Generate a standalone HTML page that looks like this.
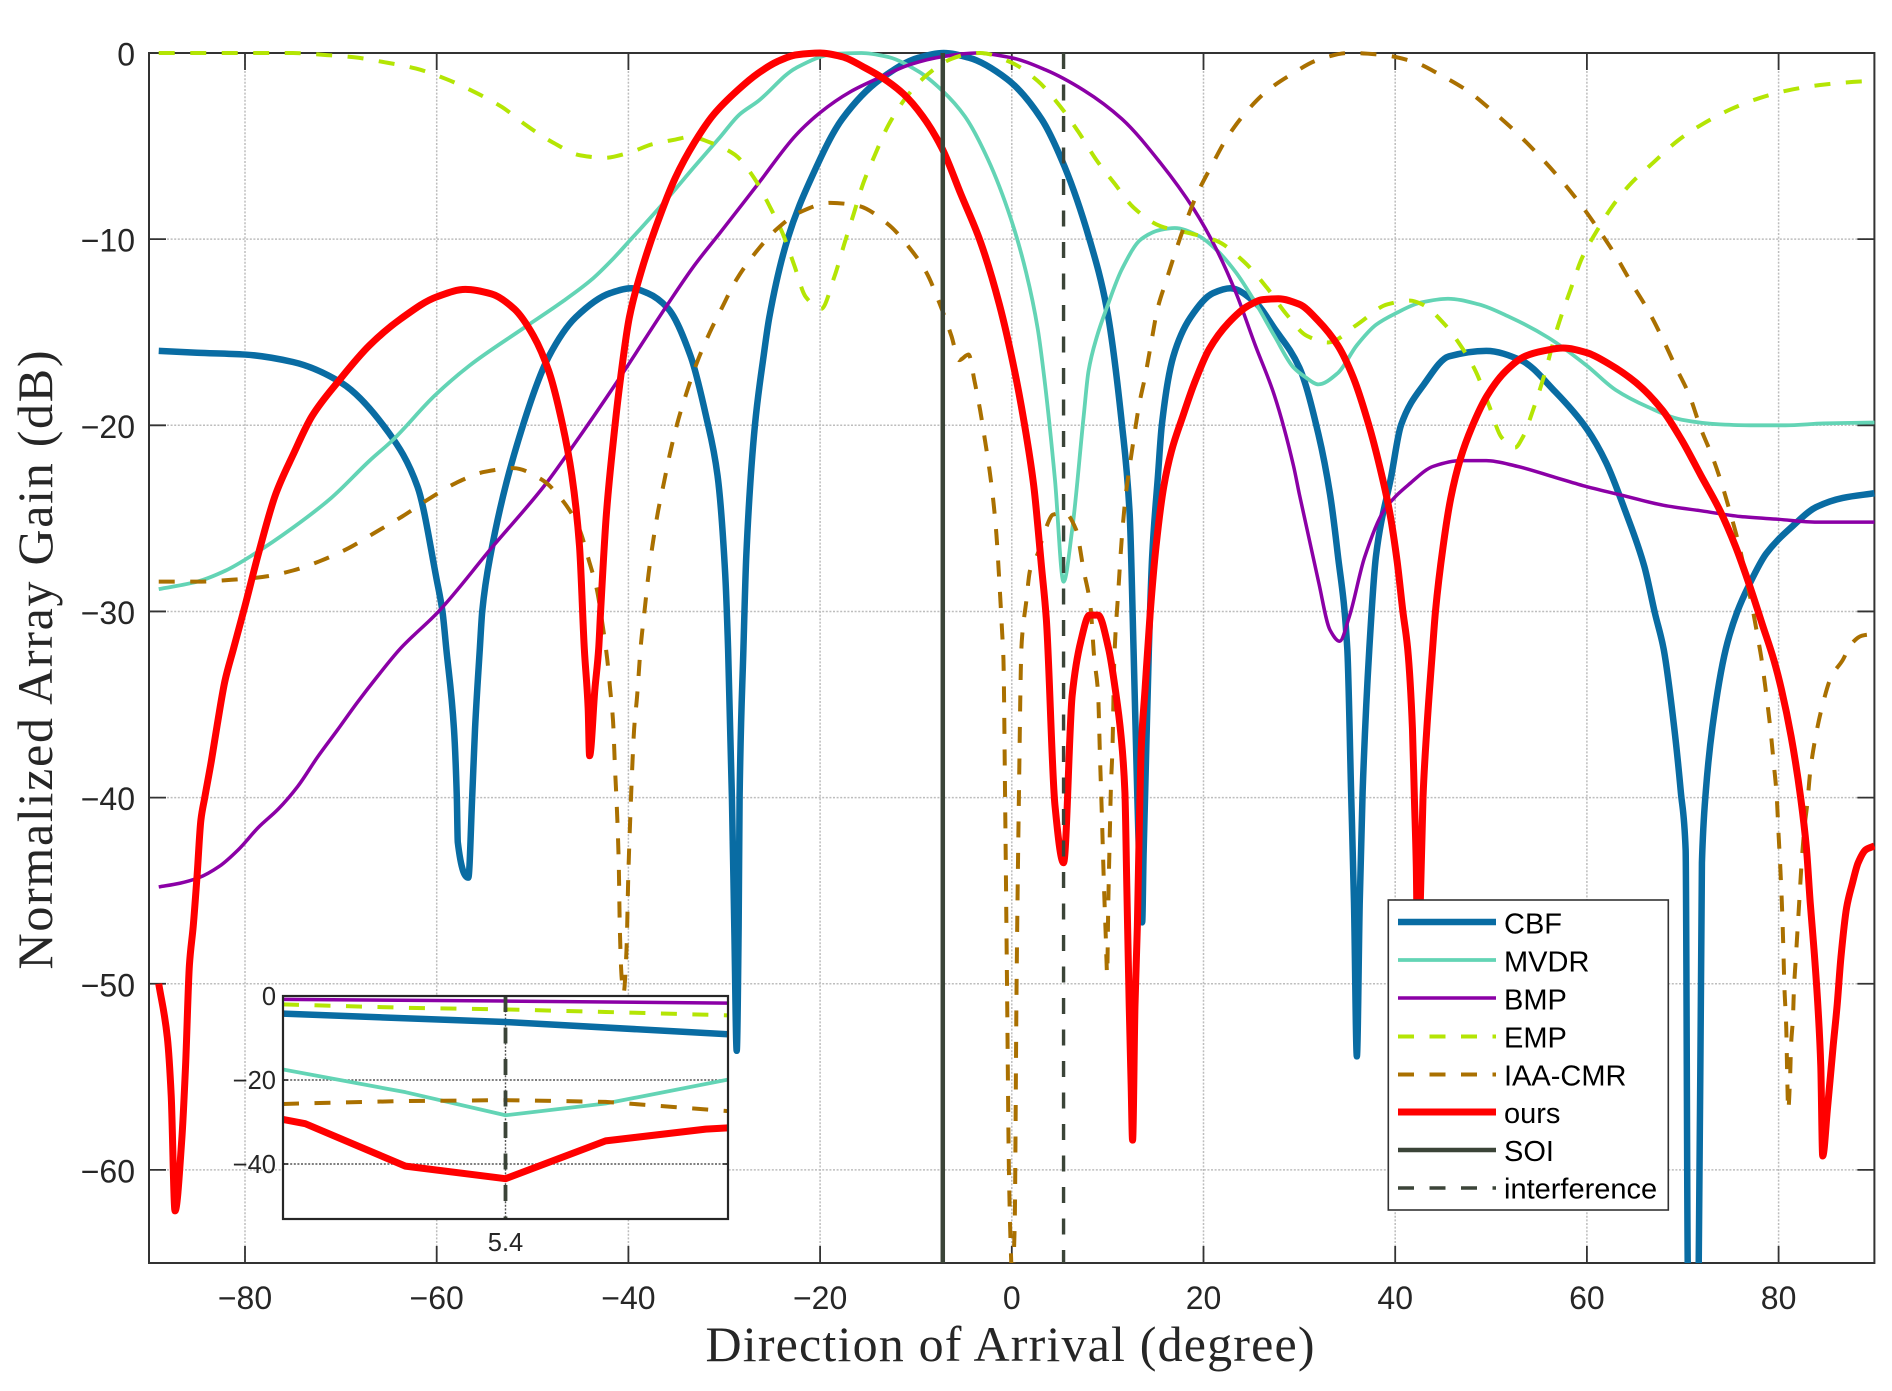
<!DOCTYPE html>
<html lang="en">
<head>
<meta charset="utf-8">
<title>Normalized Array Gain</title>
<style>
html,body{margin:0;padding:0;background:#fff;}
svg{display:block;}
text{font-family:"Liberation Sans",sans-serif;fill:#262626;}
.serif{font-family:"Liberation Serif",serif;}
</style>
</head>
<body>
<svg id="chart" xmlns="http://www.w3.org/2000/svg" width="1892" height="1391" viewBox="0 0 1892 1391">
  <defs>
    <clipPath id="main-clip"><rect x="149" y="48" width="1726" height="1215"></rect></clipPath>
    <clipPath id="inset-clip"><rect x="283" y="994" width="445" height="225"></rect></clipPath>
  </defs>
  <rect x="149" y="53" width="1725.4" height="1210" fill="#fff"></rect>
  <g id="main-grid"></g>
  <g id="main-ticks"></g>
  <rect x="149" y="53" width="1725.4" height="1210" fill="none" stroke="#333" stroke-width="2"></rect>
  <g id="main-series" clip-path="url(#main-clip)"></g>
  <g id="main-labels"></g>
  <text class="serif" x="1010" y="1361" text-anchor="middle" font-size="50" textLength="609" lengthAdjust="spacing">Direction of Arrival (degree)</text>
  <text class="serif" transform="translate(52,660) rotate(-90)" text-anchor="middle" font-size="50" textLength="619" lengthAdjust="spacing">Normalized Array Gain (dB)</text>

  <g id="inset">
    <rect x="283" y="996" width="445" height="223" fill="#fff"></rect>
    <g id="inset-grid"></g>
    <g id="inset-series" clip-path="url(#inset-clip)"></g>
    <rect x="283" y="996" width="445" height="223" fill="none" stroke="#262626" stroke-width="2.2"></rect>
    <g id="inset-labels"></g>
  </g>

  <g>
    <rect x="1388.3" y="900" width="280" height="310" fill="#fff" stroke="#333" stroke-width="1.6"></rect>
    <g>
      <line x1="1398" x2="1496" y1="922" y2="922" stroke="#096ca3" stroke-width="6.5"></line>
      <text x="1504" y="933.5" font-size="29" style="fill:#000">CBF</text>
    </g>
    <g>
      <line x1="1398" x2="1496" y1="960" y2="960" stroke="#63d4b5" stroke-width="3.8"></line>
      <text x="1504" y="971.5" font-size="29" style="fill:#000">MVDR</text>
    </g>
    <g>
      <line x1="1398" x2="1496" y1="998" y2="998" stroke="#8b00a6" stroke-width="3.5"></line>
      <text x="1504" y="1009.5" font-size="29" style="fill:#000">BMP</text>
    </g>
    <g>
      <line x1="1398" x2="1496" y1="1036.5" y2="1036.5" stroke="#b4e504" stroke-width="4" stroke-dasharray="16 15.5"></line>
      <text x="1504" y="1047.5" font-size="29" style="fill:#000">EMP</text>
    </g>
    <g>
      <line x1="1398" x2="1496" y1="1074.5" y2="1074.5" stroke="#aa7000" stroke-width="4" stroke-dasharray="16 15.5"></line>
      <text x="1504" y="1085.5" font-size="29" style="fill:#000">IAA-CMR</text>
    </g>
    <g>
      <line x1="1398" x2="1496" y1="1112" y2="1112" stroke="#ff0000" stroke-width="7"></line>
      <text x="1504" y="1123" font-size="29" style="fill:#000">ours</text>
    </g>
    <g>
      <line x1="1398" x2="1496" y1="1150" y2="1150" stroke="#3b4438" stroke-width="4.5"></line>
      <text x="1504" y="1161" font-size="29" style="fill:#000">SOI</text>
    </g>
    <g>
      <line x1="1398" x2="1496" y1="1188" y2="1188" stroke="#3b4438" stroke-width="3.4" stroke-dasharray="16 15.5"></line>
      <text x="1504" y="1198.5" font-size="29" style="fill:#000">interference</text>
    </g>
  </g>
</svg>

<script>
// ---------- tick labels ----------
const xTicks = [-80, -60, -40, -20, 0, 20, 40, 60, 80];
const yTicks = [0, -10, -20, -30, -40, -50, -60];
const insetXTicks = [5.4];
const insetYTicks = [0, -20, -40];

// ---------- directions of the signal of interest and the interference ----------
const soiDoa = [-7.2];
const interferenceDoa = [5.4];

// ---------- CBF ----------
const cbfDoa = [-89,-85,-80,-75,-70,-65,-62,-60,-59.4,-59,-58.2,-57.9,-57.8,-56.7,-56.3,-56,-55.5,-55.25,-54.4,-51,-48.3,-45.5,-41.9,-39.7,-38,-35.9,-33.5,-31.9,-30.7,-29.9,-29.6,-29.2,-28.95,-28.7,-28.5,-28.4,-28,-27.7,-26.8,-25.9,-25.3,-23.4,-20.9,-17.7,-13.7,-9.7,-7.1,-4.5,-0.5,3.1,5.5,8.1,9.9,11.5,12.3,12.7,13.1,13.4,13.6,13.75,13.9,14.3,14.65,15.25,15.65,16.85,18.65,21,22.8,25.4,27.4,30,32,33.2,34,35,35.4,35.7,36,36.3,36.6,37.3,38,39.6,40.6,43,45.6,49.5,53.1,56.7,60,62,64,66,67.1,68,69.1,69.8,70.3,70.55,71.65,72,72.4,73.1,74.5,75.7,76.9,78.7,81.5,83.9,86.7,90];
const cbfGain = [-16,-16.1,-16.2,-16.6,-17.7,-20.4,-23.3,-28.3,-30,-32,-36.3,-40,-42.4,-44.3,-40,-36.3,-32,-30,-27,-20,-16.3,-14.2,-12.9,-12.64,-12.9,-13.7,-16.3,-19.5,-22.7,-28,-32,-40,-47,-53.6,-47,-40,-32,-27,-20,-16.3,-14.2,-10,-6.7,-3.55,-1.4,-0.25,0,-0.25,-1.4,-3.55,-6.1,-10,-13.7,-20,-24.8,-32,-40,-45,-46.7,-43,-40,-32,-27,-22.7,-20,-16.3,-14.2,-12.9,-12.64,-13.4,-14.8,-16.9,-20.5,-23.7,-26.9,-32,-39.7,-45.6,-53.9,-45.6,-39.7,-32,-27,-22.7,-20,-17.8,-16.3,-16,-16.5,-18.2,-20.2,-22,-24.6,-27.6,-30.1,-32,-36.2,-39.7,-42.8,-66,-66,-43.5,-39.7,-36.2,-32,-30,-28.6,-26.9,-25.4,-24.4,-23.9,-23.65];

// ---------- MVDR ----------
const mvdrDoa = [-89,-85,-82,-79,-75,-71,-67,-64.6,-60.2,-56.6,-51,-47,-43.9,-41.5,-39.9,-35.9,-33.1,-30.4,-28.4,-26.5,-22.5,-18.5,-15.7,-13,-9.7,-7.3,-4.9,-2.5,-0.1,1.5,2.7,3.4,4.5,5.4,6.3,7.5,8,8.9,9.9,11.5,13.5,15.5,17,19.4,21.4,23.4,25.4,27.4,29.4,30.6,32,34,36,38,40,42.7,45.5,48.7,52,56,60,63,66.3,69.9,73.9,77.1,80.7,84.7,90];
const mvdrGain = [-28.8,-28.4,-27.8,-26.9,-25.5,-23.9,-21.9,-20.8,-18.4,-16.8,-14.8,-13.4,-12.2,-11,-10.1,-7.8,-6.1,-4.5,-3.3,-2.6,-0.8,-0.05,0,-0.2,-1,-2,-3.4,-5.7,-8.9,-11.8,-14.8,-17.5,-22.9,-28.4,-25.6,-19.5,-17.1,-15.2,-13.7,-11.6,-10,-9.5,-9.4,-9.8,-10.6,-11.8,-13.4,-15.2,-16.9,-17.4,-17.8,-17.2,-15.7,-14.6,-14,-13.4,-13.2,-13.5,-14.2,-15.3,-16.8,-18.1,-19,-19.7,-19.95,-20,-20,-19.9,-19.85];

// ---------- BMP ----------
const bmpDoa = [-89,-86.8,-84.8,-82.7,-80.7,-78.6,-76.5,-74.5,-72.4,-70.4,-68.3,-66.2,-63.8,-59.8,-54.3,-48.7,-45.9,-41.1,-35.9,-33.1,-30.5,-26.5,-22.5,-20,-16.9,-13.7,-10.5,-7.3,-3.7,-0.1,3.5,7.5,11.5,15.5,19,21.4,23.4,25.4,27.4,29.4,30,32,33.2,34.2,35.2,36.8,38.8,41.6,44,46.8,49.5,52.7,56.7,60,64,68,72,76,80,84,90];
const bmpGain = [-44.8,-44.6,-44.3,-43.7,-42.8,-41.6,-40.6,-39.4,-37.8,-36.4,-34.9,-33.5,-32,-30,-26.6,-23.2,-21.2,-17.6,-13.5,-11.4,-9.7,-7.05,-4.4,-3.2,-2.1,-1.3,-0.6,-0.2,0,-0.25,-0.9,-2,-3.55,-5.9,-8.4,-10.6,-12.9,-15.7,-18.4,-22.2,-23.7,-28.4,-31,-31.6,-30.3,-27.1,-24.6,-23.1,-22.2,-21.9,-21.9,-22.2,-22.8,-23.3,-23.8,-24.3,-24.6,-24.9,-25.05,-25.2,-25.2];

// ---------- EMP ----------
const empDoa = [-89,-80,-75,-71.8,-68.6,-65.4,-62.2,-59,-56.2,-53.2,-50.7,-47.9,-45,-42.5,-39.9,-37.5,-35.1,-33.5,-31.5,-28.9,-26.9,-25.3,-23.9,-22.7,-21.5,-19.9,-18.5,-17.5,-16.5,-15.5,-14.3,-12.9,-10.9,-8.9,-6.5,-4.9,-3.3,-0.1,2.7,5.1,6.9,8.9,10.7,12.7,15.5,18.7,21.4,24.2,26.6,28.6,30.8,33,36,39.2,41.6,42.8,45.2,46.8,48.4,49.8,51.1,52.5,53.3,54.3,55.5,56.9,58.3,59.5,61.1,62.7,64.7,66.9,69.5,71.9,75.1,77.9,81.5,84.7,88.5,90];
const empGain = [0,0,0,-0.1,-0.23,-0.5,-0.83,-1.4,-2.06,-2.9,-3.87,-4.8,-5.5,-5.63,-5.35,-4.9,-4.65,-4.5,-4.8,-5.46,-6.7,-8.2,-9.7,-11.4,-13.1,-13.75,-12,-10.3,-8.65,-7,-5.5,-3.9,-2.3,-1.2,-0.36,-0.1,0,-0.5,-1.5,-2.9,-4.2,-5.8,-7,-8.3,-9.3,-9.7,-10.1,-11.2,-12.6,-14,-15.2,-15.55,-14.6,-13.5,-13.3,-13.5,-14.6,-15.7,-17.1,-18.95,-20.65,-21.2,-20.65,-19.3,-17.4,-14.8,-12.7,-11,-9.5,-8.2,-6.95,-5.9,-4.7,-3.87,-3,-2.44,-1.95,-1.7,-1.53,-1.5];

// ---------- IAA-CMR ----------
const iaaDoa = [-89,-85,-81.4,-78.2,-75,-72.2,-69.2,-66.4,-63.6,-60.8,-58,-55,-52,-49.1,-46.7,-45.1,-44.1,-43.3,-42.7,-42.2,-41.9,-41.6,-41.4,-41.2,-41,-40.9,-40.7,-40.5,-40.2,-40,-39.8,-39.6,-39.4,-39.1,-38.7,-38.3,-37.9,-37.5,-36.9,-36.3,-35.7,-34.9,-33.9,-32.9,-31.5,-30.3,-28.7,-26.7,-24.5,-22.1,-18.9,-16.1,-12.9,-10.7,-8.9,-7.5,-6.3,-5.5,-4.5,-3.9,-3.3,-2.8,-2.3,-1.9,-1.6,-1.3,-1,-0.87,-0.7,-0.5,-0.3,-0.12,0.05,0.3,0.5,0.74,1,1.1,1.5,1.9,2.7,3.5,4.3,5.5,6.7,7.5,8.2,8.6,9,9.2,9.4,9.6,9.8,9.95,10.06,10.2,10.35,10.5,10.7,11.1,11.5,11.9,12.3,12.7,13.3,13.9,14.5,15.2,16.1,17,18,19.4,20.8,22.4,24.4,26.6,29,32,35.2,38.6,41.8,44.8,47.6,50.1,52.5,54.9,57.1,59.3,61.1,62.9,64.7,66.3,67.9,69.3,70.7,71.9,73.1,74.1,74.9,75.9,76.7,77.3,77.9,78.2,78.7,79.1,79.5,79.8,80,80.2,80.4,80.5,80.6,80.8,80.9,81,81.2,81.3,81.5,81.6,81.8,82,82.2,82.4,82.7,83,83.3,83.8,84.5,85.5,86.7,87.5,88.7,90];
const iaaGain = [-28.4,-28.4,-28.3,-28.15,-27.8,-27.3,-26.6,-25.75,-24.9,-23.95,-23.1,-22.5,-22.3,-22.9,-24.15,-25.6,-27.3,-28.8,-30.7,-32.6,-34.2,-35.9,-38.4,-40.6,-43.7,-46.9,-49.7,-50.5,-48.2,-44,-41,-38.4,-36.3,-34.6,-31.8,-29.9,-28,-26.5,-24.6,-23.1,-21.6,-19.9,-18.2,-16.7,-15,-13.75,-12.15,-10.7,-9.45,-8.55,-8.05,-8.2,-9.2,-10.45,-11.8,-13.5,-15.2,-16.5,-16.2,-17.6,-19.2,-20.8,-22.5,-24.2,-25.9,-28.4,-31.2,-32.6,-40,-50,-60,-64,-66,-63,-50,-40,-32,-31.2,-29.5,-27.8,-26.9,-25.6,-24.8,-24.7,-25.6,-27.8,-29.7,-32.5,-34.4,-37.8,-41,-44.5,-47.4,-49.5,-45.9,-42.5,-39.3,-37.4,-32.5,-29,-25.9,-23.7,-22.2,-20.8,-18.85,-17.4,-15.7,-13.75,-12.25,-10.8,-9.3,-7.5,-6.1,-4.6,-3.2,-2.05,-1.2,-0.36,0,-0.1,-0.45,-1.2,-2.05,-3.1,-4.2,-5.45,-6.7,-8.1,-9.4,-10.8,-12.4,-13.75,-15.35,-16.9,-18.4,-20.2,-21.7,-23.2,-24.6,-26.5,-28.4,-29.9,-31.6,-32.5,-34.4,-36.1,-38.2,-39.9,-42,-44,-46.5,-48.2,-50.1,-52.4,-55,-56.8,-55,-53.3,-51.8,-50.3,-48.6,-46.9,-45.2,-43.5,-41.6,-40.3,-38.6,-36.9,-35.2,-33.5,-32.6,-31.8,-31.3,-31.2];

// ---------- ours ----------
const oursDoa = [-89,-88.1,-87.7,-87.3,-86.6,-86.2,-85.8,-85.4,-85,-84.6,-84.2,-83.5,-82.9,-82.1,-81.2,-80,-78.6,-76.8,-75,-73,-70.2,-67,-63.8,-60,-57,-54.3,-51.9,-49.9,-48.3,-46.9,-45.9,-45.1,-44.6,-44.2,-44.05,-43.5,-43.1,-42.9,-42.3,-41.5,-40.9,-39.9,-38.7,-37.1,-35.1,-33.1,-31.1,-28.5,-26.5,-24.5,-22.5,-20,-17.7,-15.3,-13.3,-11.3,-9.3,-7.3,-5.3,-3.3,-1.3,0.3,1.5,2.3,3.1,3.6,4.5,5.4,6.3,7.2,8.1,9,10.1,10.8,11.4,11.8,12,12.25,12.45,12.6,12.85,13.1,13.3,13.5,13.9,14.45,15.05,15.85,16.65,17.85,19,20.6,22.6,24.6,26.2,27.8,30,32,34,35.6,37.2,38.4,39.4,40.2,40.8,41.3,41.8,42,42.2,42.4,42.6,42.9,43.3,43.9,44.2,45,45.8,46.8,48,49.6,51.5,53.5,55.5,57.5,60,62.3,65.1,67.9,69.9,71.9,73.9,75.5,77.1,78.3,79.5,80.3,81.3,82.3,82.9,83.3,83.7,84.1,84.4,84.6,85.1,85.7,86.1,86.5,87.1,87.7,88.3,89.1,90];
const oursGain = [-50,-52.9,-56,-62.2,-58.4,-54.4,-49,-46.9,-44.2,-41.2,-40,-38,-36.1,-33.75,-32,-29.7,-26.9,-23.7,-21.6,-19.5,-17.6,-15.7,-14.3,-13.1,-12.7,-12.94,-13.75,-15.2,-17.1,-19.9,-22.7,-26.5,-32,-35.2,-37.75,-34.2,-32,-30,-24.8,-20.5,-17.8,-14.2,-11.8,-9.3,-6.7,-4.8,-3.3,-1.95,-1.1,-0.47,-0.1,0,-0.2,-0.8,-1.4,-2.2,-3.4,-5.1,-7.6,-10.1,-13.5,-17.1,-20.5,-23.3,-27.6,-30.4,-40.4,-43.5,-34.5,-31.6,-30.2,-30.2,-32,-34.2,-36.7,-39.7,-44.8,-51.2,-55.4,-58.4,-51.2,-46.9,-41.6,-37.4,-34.2,-30,-26.5,-23.3,-21.4,-19.5,-17.8,-15.9,-14.5,-13.6,-13.25,-13.2,-13.5,-14.4,-15.7,-17.4,-19.9,-22.25,-24.6,-27.3,-30,-32,-36.3,-40,-43.7,-52,-46,-40,-36.3,-32,-30,-26.5,-23.9,-21.8,-20.1,-18.4,-17.1,-16.3,-16,-15.85,-16.1,-16.7,-17.7,-19.2,-20.8,-22.7,-24.6,-26.5,-28.8,-30.7,-32.6,-34.2,-36.7,-40,-42.7,-45.65,-48.2,-51.2,-54.4,-59.25,-56.7,-53.3,-51.2,-48.6,-45.9,-44.6,-43.5,-42.8,-42.6];

// ---------- inset (zoom on the interference null) ----------
const insetBmpDoa = [3.4, 5.4, 7.4];
const insetBmpGain = [-0.8, -1.2, -1.7];
const insetEmpDoa = [3.4, 4.5, 5.4, 6.3, 7.4];
const insetEmpGain = [-2, -2.8, -3.2, -3.8, -4.6];
const insetCbfDoa = [3.4, 5.4, 7.4];
const insetCbfGain = [-4.2, -6.2, -9.1];
const insetMvdrDoa = [3.4, 4.5, 5.4, 6.3, 7.4];
const insetMvdrGain = [-17.5, -22.9, -28.4, -25.6, -19.9];
const insetIaaDoa = [3.4, 4.5, 5.4, 6.3, 7.4];
const insetIaaGain = [-25.7, -25, -24.8, -25.2, -27.4];
const insetOursDoa = [3.4, 3.6, 4.5, 5.4, 6.3, 7.2, 7.4];
const insetOursGain = [-29.4, -30.4, -40.5, -43.5, -34.5, -31.7, -31.4];

const NS = 'http://www.w3.org/2000/svg';

// axis functions
function sx(v) { return 1011.8 + 9.585 * v; }
function sy(v) { return 53 - 18.615 * v; }
function ix(v) { return 283 + (v - 3.4) / 4 * 445; }
function iy(v) { return 996 - 4.2 * v; }

function svgEl(tag, parent) {
  const el = document.createElementNS(NS, tag);
  parent.appendChild(el);
  return el;
}

// monotone cubic path through the data, so the traced curves stay smooth
function smoothPath(xs, ys) {
  const n = xs.length;
  const h = [], d = [], m = [];
  for (let i = 0; i < n - 1; i++) {
    h[i] = xs[i + 1] - xs[i];
    d[i] = (ys[i + 1] - ys[i]) / (h[i] || 1);
  }
  m[0] = d[0];
  m[n - 1] = d[n - 2];
  for (let i = 1; i < n - 1; i++) {
    if (d[i - 1] * d[i] <= 0) {
      m[i] = 0;
    } else {
      const w1 = 2 * h[i] + h[i - 1];
      const w2 = h[i] + 2 * h[i - 1];
      m[i] = (w1 + w2) / (w1 / d[i - 1] + w2 / d[i]);
    }
  }
  let out = 'M' + xs[0].toFixed(2) + ' ' + ys[0].toFixed(2);
  for (let i = 0; i < n - 1; i++) {
    const t = h[i] / 3;
    out += 'C' + (xs[i] + t).toFixed(2) + ' ' + (ys[i] + m[i] * t).toFixed(2) + ' ' +
      (xs[i + 1] - t).toFixed(2) + ' ' + (ys[i + 1] - m[i + 1] * t).toFixed(2) + ' ' +
      xs[i + 1].toFixed(2) + ' ' + ys[i + 1].toFixed(2);
  }
  return out;
}

function drawSeries(parent, doa, gain, fx, fy, color, width, dash, name) {
  const el = svgEl('path', parent);
  
  
  const n = Math.min(doa.length, gain.length);
  const px = [];
  const py = [];
  for (let i = 0; i < n; i++) {
    px.push(fx(doa[i]));
    py.push(fy(gain[i]));
  }
  el.setAttribute('d', smoothPath(px, py));
  el.setAttribute('fill', 'none');
  el.setAttribute('stroke', color);
  el.setAttribute('stroke-width', width);
  el.setAttribute('stroke-linejoin', 'round');
  if (dash) el.setAttribute('stroke-dasharray', dash);
}

function drawPolyline(parent, doa, gain, fx, fy, color, width, dash, name) {
  const el = svgEl('polyline', parent);
  
  
  const n = Math.min(doa.length, gain.length);
  let pts = '';
  for (let i = 0; i < n; i++) {
    pts += fx(doa[i]).toFixed(2) + ',' + fy(gain[i]).toFixed(2) + ' ';
  }
  el.setAttribute('points', pts.trim());
  el.setAttribute('fill', 'none');
  el.setAttribute('stroke', color);
  el.setAttribute('stroke-width', width);
  el.setAttribute('stroke-linejoin', 'round');
  if (dash) el.setAttribute('stroke-dasharray', dash);
}

function drawSegment(parent, x1, y1, x2, y2, color, width, dash, name) {
  const el = svgEl('line', parent);
  
  
  el.setAttribute('x1', x1);
  el.setAttribute('y1', y1);
  el.setAttribute('x2', x2);
  el.setAttribute('y2', y2);
  el.setAttribute('stroke', color);
  el.setAttribute('stroke-width', width);
  if (dash) el.setAttribute('stroke-dasharray', dash);
}

function drawLabel(parent, x, y, str, size, anchor, name) {
  const el = svgEl('text', parent);
  
  
  el.setAttribute('x', x);
  el.setAttribute('y', y);
  el.setAttribute('font-size', size);
  el.setAttribute('text-anchor', anchor);
  el.textContent = str;
}

function fmt(v) { return v < 0 ? '\u2212' + Math.abs(v) : String(v); }

const gridG = document.getElementById('main-grid');
const tickG = document.getElementById('main-ticks');
const labelG = document.getElementById('main-labels');
const GRID = '#bdbdbd';
const L = 149, R = 1874.4, T = 53, B = 1263;

xTicks.forEach(function (v) {
  const x = sx(v);
  drawSegment(gridG, x, T, x, B, GRID, 1.5, '2 1.6', 'x-grid-line');
  drawSegment(tickG, x, T, x, T + 17, '#333', 1.8, null, 'x-tick-top');
  drawSegment(tickG, x, B, x, B - 17, '#333', 1.8, null, 'x-tick-bottom');
  drawLabel(labelG, x, 1309, fmt(v), 32, 'middle', 'x-tick-label');
});
yTicks.forEach(function (v) {
  const y = sy(v);
  drawSegment(gridG, L, y, R, y, GRID, 1.5, '2 1.6', 'y-grid-line');
  drawSegment(tickG, L, y, L + 17, y, '#333', 1.8, null, 'y-tick-left');
  drawSegment(tickG, R, y, R - 17, y, '#333', 1.8, null, 'y-tick-right');
  drawLabel(labelG, 135, y + 12.5, fmt(v), 32, 'end', 'y-tick-label');
});

const seriesG = document.getElementById('main-series');
drawSeries(seriesG, cbfDoa, cbfGain, sx, sy, '#096ca3', 6.5, null, 'series-cbf');
drawSeries(seriesG, mvdrDoa, mvdrGain, sx, sy, '#63d4b5', 3.8, null, 'series-mvdr');
drawSeries(seriesG, bmpDoa, bmpGain, sx, sy, '#8b00a6', 3.5, null, 'series-bmp');
drawSeries(seriesG, empDoa, empGain, sx, sy, '#b4e504', 4, '16 15.5', 'series-emp');
drawSeries(seriesG, iaaDoa, iaaGain, sx, sy, '#aa7000', 4, '16 15.5', 'series-iaa-cmr');
drawSeries(seriesG, oursDoa, oursGain, sx, sy, '#ff0000', 7, null, 'series-ours');
drawSegment(seriesG, sx(soiDoa[0]), T, sx(soiDoa[0]), B, '#3b4438', 4.5, null, 'soi-line');
drawSegment(seriesG, sx(interferenceDoa[0]), T, sx(interferenceDoa[0]), B, '#3b4438', 3.4, '16 15.5', 'interference-line');

// inset
const insetGrid = document.getElementById('inset-grid');
const insetLabels = document.getElementById('inset-labels');
const IGRID = '#555';
insetYTicks.forEach(function (v) {
  const y = iy(v);
  if (v !== 0) {
    drawSegment(insetGrid, 283, y, 728, y, IGRID, 1.4, '2 1.6', 'inset-y-grid-line');
    drawSegment(insetGrid, 283, y, 288, y, '#262626', 1.6, null, 'inset-y-tick-left');
    drawSegment(insetGrid, 728, y, 723, y, '#262626', 1.6, null, 'inset-y-tick-right');
  }
  drawLabel(insetLabels, 276, y + 9, fmt(v), 25.5, 'end', 'inset-y-tick-label');
});
insetXTicks.forEach(function (v) {
  const x = ix(v);
  drawSegment(insetGrid, x, 996, x, 1219, IGRID, 1.4, '2 1.6', 'inset-x-grid-line');
  drawLabel(insetLabels, x, 1251, String(v), 25.5, 'middle', 'inset-x-tick-label');
});
const insetS = document.getElementById('inset-series');
drawPolyline(insetS, insetCbfDoa, insetCbfGain, ix, iy, '#096ca3', 6.5, null, 'inset-series-cbf');
drawPolyline(insetS, insetMvdrDoa, insetMvdrGain, ix, iy, '#63d4b5', 3.8, null, 'inset-series-mvdr');
drawPolyline(insetS, insetBmpDoa, insetBmpGain, ix, iy, '#8b00a6', 3.5, null, 'inset-series-bmp');
drawPolyline(insetS, insetEmpDoa, insetEmpGain, ix, iy, '#b4e504', 4, '16 15.5', 'inset-series-emp');
drawPolyline(insetS, insetIaaDoa, insetIaaGain, ix, iy, '#aa7000', 4, '16 15.5', 'inset-series-iaa-cmr');
drawPolyline(insetS, insetOursDoa, insetOursGain, ix, iy, '#ff0000', 7, null, 'inset-series-ours');
drawSegment(insetS, ix(interferenceDoa[0]), 996, ix(interferenceDoa[0]), 1219, '#3b4438', 3.8, '16 15.5', 'inset-interference-line');
</script>
</body>
</html>
